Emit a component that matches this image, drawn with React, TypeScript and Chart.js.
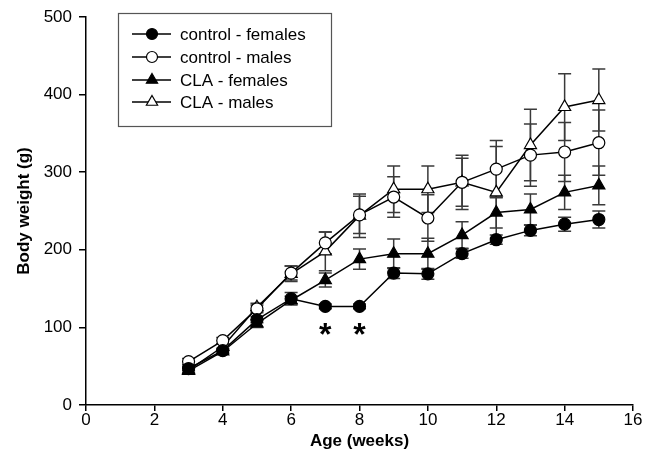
import React, { useEffect, useRef } from 'react';
import { Chart, registerables } from 'chart.js';

Chart.register(...registerables);

const weeks = [3, 4, 5, 6, 7, 8, 9, 10, 11, 12, 13, 14, 15];
const controlFemales = [47, 70, 110, 137, 127, 127, 170, 169, 195, 213, 225, 233, 239];
const controlFemalesErr = [3, 3, 4, 8, 3, 3, 7, 7, 6, 6, 7, 9, 11];
const controlMales = [56, 83, 124, 170, 209, 245, 268, 241, 287, 304, 322, 326, 338];
const controlMalesErr = [4, 4, 5, 9, 14, 24, 26, 30, 35, 37, 40, 38, 42];
const claFemales = [44, 69, 105, 135, 161, 188, 195, 195, 219, 248, 252, 274, 283];
const claFemalesErr = [3, 3, 5, 5, 9, 13, 19, 20, 17, 20, 20, 22, 25];
const claMales = [45, 75, 126, 169, 198, 244, 278, 278, 287, 274, 335, 384, 393];
const claMalesErr = [3, 4, 5, 10, 25, 28, 30, 30, 31, 59, 46, 43, 40];
const seriesLabels = ['control - females', 'control - males', 'CLA - females', 'CLA - males'];
const significantWeeks = [7, 8];
const xTickValues = [0, 2, 4, 6, 8, 10, 12, 14, 16];
const yTickValues = [0, 100, 200, 300, 400, 500];

const FONT = "'Liberation Sans', Arial, sans-serif";

type Series = { label: string; values: number[]; errors: number[]; style: 'circle' | 'triangle'; filled: boolean };

function drawMarker(ctx: CanvasRenderingContext2D, style: string, filled: boolean, x: number, y: number, r: number) {
  ctx.save();
  ctx.beginPath();
  if (style === 'circle') {
    ctx.arc(x, y, r, 0, Math.PI * 2);
  } else {
    ctx.moveTo(x, y - r);
    ctx.lineTo(x + r * 0.866, y + r * 0.5);
    ctx.lineTo(x - r * 0.866, y + r * 0.5);
    ctx.closePath();
  }
  ctx.fillStyle = filled ? '#000' : '#fff';
  ctx.fill();
  ctx.lineWidth = 1.2;
  ctx.strokeStyle = '#000';
  ctx.stroke();
  ctx.restore();
}

export default function App() {
  const ref = useRef<HTMLCanvasElement>(null);
  useEffect(() => {
    const series: Series[] = [
      { label: seriesLabels[0], values: controlFemales, errors: controlFemalesErr, style: 'circle', filled: true },
      { label: seriesLabels[1], values: controlMales, errors: controlMalesErr, style: 'circle', filled: false },
      { label: seriesLabels[2], values: claFemales, errors: claFemalesErr, style: 'triangle', filled: true },
      { label: seriesLabels[3], values: claMales, errors: claMalesErr, style: 'triangle', filled: false },
    ];

    const errorBarPlugin = {
      id: 'errorBars',
      beforeDatasetsDraw(chart: any) {
        const ctx = chart.ctx;
        const xs = chart.scales.x;
        const ys = chart.scales.y;
        ctx.save();
        ctx.strokeStyle = '#3a3a3a';
        ctx.lineWidth = 1.5;
        series.forEach((s) => {
          s.values.forEach((v, i) => {
            const e = s.errors[i];
            const px = xs.getPixelForValue(weeks[i]);
            const top = ys.getPixelForValue(v + e);
            const bot = ys.getPixelForValue(v - e);
            ctx.beginPath();
            ctx.moveTo(px, top);
            ctx.lineTo(px, bot);
            ctx.moveTo(px - 6.5, top);
            ctx.lineTo(px + 6.5, top);
            ctx.moveTo(px - 6.5, bot);
            ctx.lineTo(px + 6.5, bot);
            ctx.stroke();
          });
        });
        ctx.restore();
      },
    };

    const annotationPlugin = {
      id: 'legendAndStars',
      afterDraw(chart: any) {
        const ctx = chart.ctx;
        const xs = chart.scales.x;
        const ys = chart.scales.y;
        ctx.save();
        // significance asterisks
        ctx.fillStyle = '#000';
        ctx.font = `bold 32px ${FONT}`;
        ctx.textAlign = 'center';
        ctx.textBaseline = 'alphabetic';
        significantWeeks.forEach((w) => {
          const i = weeks.indexOf(w);
          const px = xs.getPixelForValue(w);
          const py = ys.getPixelForValue(controlFemales[i]);
          ctx.fillText('*', px, py + 39);
        });
        // legend box
        ctx.strokeStyle = '#555';
        ctx.lineWidth = 1.2;
        ctx.strokeRect(118.5, 13.5, 213, 113);
        ctx.font = `17px ${FONT}`;
        ctx.textAlign = 'left';
        ctx.textBaseline = 'middle';
        const rowsY = [34, 57, 80, 102];
        series.forEach((s, k) => {
          const y = rowsY[k];
          ctx.beginPath();
          ctx.strokeStyle = '#000';
          ctx.lineWidth = 1.5;
          ctx.moveTo(132, y);
          ctx.lineTo(171, y);
          ctx.stroke();
          drawMarker(ctx, s.style, s.filled, 152, y, s.style === 'circle' ? 5.5 : 6.5);
          ctx.fillStyle = '#000';
          ctx.fillText(s.label, 180, y + 1);
        });
        ctx.restore();
      },
    };

    const chart = new Chart(ref.current!, {
      type: 'line',
      data: {
        datasets: series.map((s) => ({
          label: s.label,
          data: weeks.map((w, i) => ({ x: w, y: s.values[i] })),
          borderColor: '#000',
          borderWidth: 1.5,
          pointStyle: s.style,
          pointRadius: s.style === 'circle' ? 6 : 7,
          pointBorderWidth: 1.2,
          pointBorderColor: '#000',
          pointBackgroundColor: s.filled ? '#000' : '#fff',
          tension: 0,
          fill: false,
          clip: false as any,
        })),
      },
      options: {
        responsive: false,
        animation: false,
        layout: { padding: { top: 17, right: 29, left: 0, bottom: 0 } },
        plugins: { legend: { display: false }, tooltip: { enabled: false } },
        events: [],
        scales: {
          x: {
            type: 'linear',
            min: 0,
            max: 16,
            afterFit: (scale: any) => { scale.height = 55; },
            afterBuildTicks: (scale: any) => { scale.ticks = xTickValues.map((v) => ({ value: v })); },
            ticks: {
              color: '#000',
              font: { family: FONT, size: 17, lineHeight: 1 },
              padding: 1,
              maxRotation: 0,
            },
            grid: { display: true, drawOnChartArea: false, drawTicks: true, tickLength: 6, color: '#000', lineWidth: 1.5 },
            border: { display: true, color: '#000', width: 1.5 },
            title: {
              display: true,
              text: 'Age (weeks)',
              color: '#000',
              font: { family: FONT, size: 17, weight: 'bold', lineHeight: 1.2 },
              padding: { top: 0, bottom: 8 },
            },
          },
          y: {
            type: 'linear',
            min: 0,
            max: 500,
            afterFit: (scale: any) => { scale.width = 86; },
            afterBuildTicks: (scale: any) => { scale.ticks = yTickValues.map((v) => ({ value: v })); },
            ticks: {
              color: '#000',
              font: { family: FONT, size: 17, lineHeight: 1 },
              padding: 7,
            },
            grid: { display: true, drawOnChartArea: false, drawTicks: true, tickLength: 7, color: '#000', lineWidth: 1.5 },
            border: { display: true, color: '#000', width: 1.5 },
            title: {
              display: true,
              text: 'Body weight (g)',
              color: '#000',
              font: { family: FONT, size: 17, weight: 'bold', lineHeight: 1.2 },
              padding: { top: 14, bottom: 0 },
            },
          },
        },
      } as any,
      plugins: [errorBarPlugin, annotationPlugin],
    });
    return () => chart.destroy();
  }, []);
  return (
    <div style={{ position: 'fixed', left: 0, top: 0, width: 662, height: 460, background: '#fff' }}>
      <canvas ref={ref} width={662} height={460} style={{ display: 'block', width: 662, height: 460 }} />
    </div>
  );
}
